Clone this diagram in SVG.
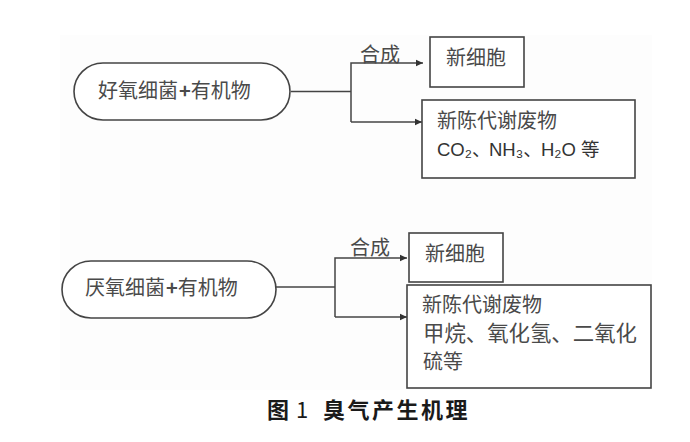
<svg xmlns="http://www.w3.org/2000/svg" width="690" height="442" viewBox="0 0 690 442">
<style>
text{font-family:"Noto Sans CJK SC","Liberation Sans",sans-serif;font-size:20px;fill:#4a4a4a}
.latin{font-family:"Liberation Sans","Noto Sans CJK SC",sans-serif;fill:#333;font-size:18.5px}
.box{fill:#fff;stroke:#444;stroke-width:1.6}
.line{fill:none;stroke:#444;stroke-width:1.5}
.cap{font-size:22px;font-weight:700;fill:#1a1a1a}
</style>
<defs><marker id="a" markerUnits="userSpaceOnUse" markerWidth="8" markerHeight="8" refX="7" refY="4" orient="auto"><path d="M0 .8L7 4L0 7.2z" fill="#333"/></marker></defs>
<rect width="690" height="442" fill="#fff"/>
<rect id="background" x="60" y="35" width="592" height="355" fill="#fdfdfd"/>
<g id="connectors">
<path class="line" d="M291 91.5H351"/>
<path class="line" d="M351 122V63H423" marker-end="url(#a)"/>
<path class="line" d="M351 122H422" marker-end="url(#a)"/>
<path class="line" d="M276 287H335"/>
<path class="line" d="M335 317V258H407" marker-end="url(#a)"/>
<path class="line" d="M335 317H407" marker-end="url(#a)"/>
</g>
<text id="label-synth-1" x="360" y="62">合成</text>
<text id="label-synth-2" x="350" y="255">合成</text>
<g id="aerobic"><rect class="box" x="74" y="63" width="216" height="57" rx="29"/><text x="98" y="98">好氧细菌<tspan font-weight="700" dx="1">+</tspan>有机物</text></g>
<g id="new-cell-1"><rect class="box" x="430" y="37" width="94" height="50"/><text x="446" y="65">新细胞</text></g>
<g id="waste-1"><rect class="box" x="422" y="100" width="213" height="78"/><text x="437" y="128">新陈代谢废物</text><text class="latin" y="156"><tspan x="437">CO₂、</tspan><tspan x="489">NH₃、</tspan><tspan x="541">H₂O</tspan><tspan x="581">等</tspan></text></g>
<g id="anaerobic"><rect class="box" x="62" y="261" width="214" height="57" rx="29"/><text x="85" y="295">厌氧细菌<tspan font-weight="700" dx="1">+</tspan>有机物</text></g>
<g id="new-cell-2"><rect class="box" x="409" y="233" width="94" height="49"/><text x="425" y="261">新细胞</text></g>
<g id="waste-2"><rect class="box" x="407" y="285" width="244" height="103"/><text x="422" y="312">新陈代谢废物</text><text x="423" y="341" style="font-size:21.4px">甲烷、氧化氢、二氧化</text><text x="423" y="369">硫等</text></g>
<text id="caption" class="cap" y="418"><tspan x="267">图</tspan><tspan x="296" font-weight="400">1</tspan><tspan x="323" letter-spacing="2.5">臭气产生机理</tspan></text>
</svg>
